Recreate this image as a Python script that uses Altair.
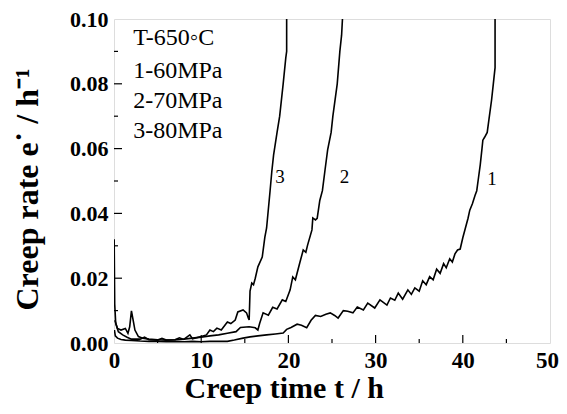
import altair as alt
import pandas as pd

# Curve 1: 60 MPa
t1 = [0.05, 0.15, 0.4, 0.8, 1.3, 2.0, 3.0, 4.0, 5.0, 6.0, 7.0, 8.0, 9.0, 10.0, 11.0, 12.0,
      13.0, 13.8, 14.8, 15.6, 16.5, 17.5, 18.5, 19.4, 19.8, 20.3, 21.0, 21.5, 22.1, 22.6,
      23.1, 23.7, 24.3, 24.8, 25.3, 25.7, 26.3, 26.8, 27.4, 27.9, 28.6, 29.1, 29.9, 30.5,
      31.3, 31.7, 32.2, 32.6, 33.1, 33.7, 34.1, 34.5, 35.0, 35.4, 35.8, 36.2, 36.6, 37.0,
      37.4, 37.8, 38.1, 38.5, 38.8, 39.1, 39.4, 39.7, 40.0, 40.3, 40.6, 40.8, 41.1, 41.4,
      41.6, 41.8, 42.0, 42.2, 42.3, 42.5, 42.8, 43.0, 43.3, 43.5, 43.7, 43.7]
r1 = [0.0040, 0.0022, 0.0015, 0.0011, 0.0009, 0.0008, 0.0006, 0.0005, 0.0005, 0.0004, 0.0005,
      0.0004, 0.0005, 0.0004, 0.0005, 0.0005, 0.0005, 0.0009, 0.0015, 0.0019, 0.0022, 0.0025,
      0.0028, 0.0031, 0.0042, 0.0048, 0.0058, 0.0055, 0.0047, 0.0070, 0.0085, 0.0082, 0.0089,
      0.0093, 0.0085, 0.0077, 0.0100, 0.0098, 0.0093, 0.0111, 0.0102, 0.0123, 0.0108, 0.0133,
      0.0117, 0.0139, 0.0132, 0.0154, 0.0135, 0.0164, 0.0150, 0.0170, 0.0160, 0.0192, 0.0180,
      0.0205, 0.0195, 0.0228, 0.0215, 0.0245, 0.0232, 0.0260, 0.0250, 0.0275, 0.0287, 0.0290,
      0.0325, 0.0355, 0.0385, 0.0410, 0.0430, 0.0455, 0.0470, 0.0510, 0.0550, 0.0600, 0.0626,
      0.0635, 0.0650, 0.0690, 0.0750, 0.0800, 0.0850, 0.1000]

# Curve 2: 70 MPa
t2 = [0.1, 0.4, 0.8, 1.3, 1.6, 1.8, 2.0, 2.2, 2.4, 2.8, 3.3, 4.0, 5.0, 6.0, 7.0, 8.0, 9.0,
      10.0, 11.0, 12.0, 13.0, 14.0, 14.5, 15.5, 16.2, 16.5, 16.7, 17.1, 17.7, 18.2, 18.7,
      19.3, 19.7, 20.2, 20.5, 20.8, 21.3, 21.7, 22.0, 22.2, 22.7, 22.8, 23.1, 23.3, 23.6,
      23.9, 24.2, 24.5, 24.9, 25.1, 25.6, 25.9, 26.1, 26.2]
r2 = [0.0070, 0.0045, 0.0040, 0.0045, 0.0030, 0.0050, 0.0099, 0.0070, 0.0040, 0.0020, 0.0015,
      0.0012, 0.0010, 0.0009, 0.0010, 0.0012, 0.0015, 0.0018, 0.0022, 0.0025, 0.0030, 0.0035,
      0.0048, 0.0050, 0.0047, 0.0040, 0.0060, 0.0093, 0.0086, 0.0110, 0.0105, 0.0133, 0.0128,
      0.0164, 0.0204, 0.0195, 0.0247, 0.0287, 0.0280, 0.0302, 0.0349, 0.0386, 0.0380, 0.0385,
      0.0440, 0.0470, 0.0534, 0.0596, 0.0650, 0.0700, 0.0800, 0.0900, 0.0950, 0.1000]

# Curve 3: 80 MPa
t3 = [0.02, 0.08, 0.2, 0.5, 1.0, 1.5, 2.0, 3.0, 3.5, 4.0, 5.0, 5.5, 6.0, 7.0, 7.5, 8.0, 8.7,
      9.0, 10.0, 10.6, 11.0, 11.4, 11.8, 12.3, 13.0, 13.4, 13.9, 14.2, 14.8, 15.2, 15.4, 15.5,
      15.6, 15.8, 16.0, 16.2, 16.5, 17.0, 17.3, 17.5, 17.9, 18.1, 18.3, 18.7, 19.0, 19.4,
      19.7, 19.8, 19.8]
r3 = [0.0320, 0.0120, 0.0060, 0.0035, 0.0025, 0.0018, 0.0012, 0.0012, 0.0018, 0.0010, 0.0009,
      0.0014, 0.0009, 0.0010, 0.0016, 0.0011, 0.0025, 0.0013, 0.0020, 0.0025, 0.0040, 0.0035,
      0.0046, 0.0040, 0.0065, 0.0060, 0.0071, 0.0096, 0.0102, 0.0093, 0.0077, 0.0071, 0.0160,
      0.0185, 0.0180, 0.0200, 0.0235, 0.0265, 0.0327, 0.0355, 0.0470, 0.0530, 0.0580, 0.0650,
      0.0700, 0.0800, 0.0880, 0.0900, 0.1000]

legend_lines = ["T-650\u25e6C", "1-60MPa", "2-70MPa", "3-80MPa"]
legend_x = [2.2, 2.2, 2.2, 2.2]
legend_y = [0.0920, 0.0818, 0.0725, 0.0633]

curve_labels = ["3", "2", "1"]
curve_label_x = [18.5, 25.9, 42.8]
curve_label_y = [0.0494, 0.0494, 0.0488]

x_major = [10, 20, 30, 40]
x_minor = [5, 15, 25, 35, 45]
y_major = [0.02, 0.04, 0.06, 0.08]
y_minor = [0.01, 0.03, 0.05, 0.07, 0.09]

FONT = "Liberation Serif"

rows = []
for name, ts, rs in [("1", t1, r1), ("2", t2, r2), ("3", t3, r3)]:
    for i, (t, r) in enumerate(zip(ts, rs)):
        rows.append({"curve": name, "t": t, "r": r, "i": i})
df = pd.DataFrame(rows)

xs = alt.Scale(domain=[0, 50], nice=False)
ys = alt.Scale(domain=[0, 0.1], nice=False)

lines = alt.Chart(df).mark_line(color="black", strokeWidth=1.6, clip=True).encode(
    x=alt.X("t:Q", scale=xs,
            axis=alt.Axis(values=[0, 10, 20, 30, 40, 50], ticks=False, domain=False, grid=False,
                          labelFont=FONT, labelFontWeight="bold", labelFontSize=23,
                          labelColor="black", labelPadding=6, labelFlush=False,
                          labelOffset={"condition": {"test": "datum.value == 50", "value": -3},
                                       "value": 0},
                          title="Creep time t / h", titleFont=FONT, titleFontSize=30,
                          titleFontWeight="bold", titleColor="black",
                          titleAlign="left", titleAnchor="start", titleX=70, titleY=54,
                          titleBaseline="alphabetic")),
    y=alt.Y("r:Q", scale=ys,
            axis=alt.Axis(values=[0, 0.02, 0.04, 0.06, 0.08, 0.10], format=".2f", ticks=False,
                          domain=False, grid=False, labelFont=FONT, labelFontWeight="bold",
                          labelFontSize=22, labelColor="black", labelPadding=6,
                          labelFlush=False,
                          title="Creep rate e\u02d9 / h\u207b\u00b9", titleFont=FONT,
                          titleFontSize=32, titleFontWeight="bold", titleColor="black",
                          titleAngle=-90, titleAlign="left", titleAnchor="start",
                          titleX=-77, titleY=291, titleBaseline="alphabetic")),
    detail="curve:N",
    order="i:Q",
)

xt = pd.DataFrame({"t": x_major + x_minor,
                   "len": [0.0025] * len(x_major) + [0.00125] * len(x_minor),
                   "zero": 0.0})
yt = pd.DataFrame({"v": y_major + y_minor,
                   "len": [0.92] * len(y_major) + [0.46] * len(y_minor),
                   "zero": 0.0})

xticks = alt.Chart(xt).mark_rule(color="black", strokeWidth=1.2).encode(
    x=alt.X("t:Q", scale=xs), y=alt.Y("zero:Q", scale=ys), y2="len:Q")
yticks = alt.Chart(yt).mark_rule(color="black", strokeWidth=1.2).encode(
    y=alt.Y("v:Q", scale=ys), x=alt.X("zero:Q", scale=xs), x2="len:Q")

leg = alt.Chart(pd.DataFrame({"txt": legend_lines, "x": legend_x, "y": legend_y})).mark_text(
    align="left", baseline="alphabetic", font=FONT, fontSize=24, color="black").encode(
    x=alt.X("x:Q", scale=xs), y=alt.Y("y:Q", scale=ys), text="txt:N")

lab = alt.Chart(pd.DataFrame({"txt": curve_labels, "x": curve_label_x, "y": curve_label_y})).mark_text(
    align="left", baseline="alphabetic", font=FONT, fontSize=19, color="black").encode(
    x=alt.X("x:Q", scale=xs), y=alt.Y("y:Q", scale=ys), text="txt:N")

chart = alt.layer(lines, xticks, yticks, leg, lab).properties(
    width=436, height=324,
    autosize=alt.AutoSizeParams(type="none"),
    padding={"left": 106, "top": 11, "right": 9, "bottom": 62},
).configure_view(stroke="black", strokeWidth=1.5).configure(background="white")

chart.save("out.html", embed_options={"renderer": "svg", "actions": False})
